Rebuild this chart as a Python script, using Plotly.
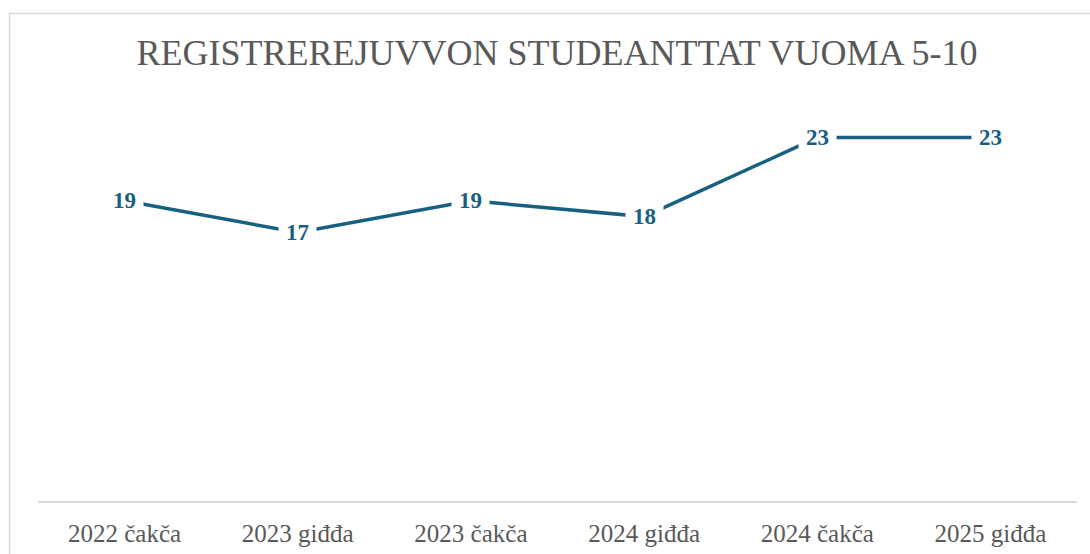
import plotly.graph_objects as go

categories = ["2022 čakča", "2023 giđđa", "2023 čakča", "2024 giđđa", "2024 čakča", "2025 giđđa"]
values = [19, 17, 19, 18, 23, 23]
title_text = "REGISTREREJUVVON STUDEANTTAT VUOMA 5-10"

line_color = "#17607f"
serif = "Liberation Serif, Times New Roman, serif"

fig = go.Figure()
fig.add_trace(go.Scatter(
    x=categories, y=values, mode="lines",
    line=dict(color=line_color, width=3.5),
    hoverinfo="skip", showlegend=False,
))

for c, v in zip(categories, values):
    fig.add_annotation(
        x=c, y=v, text=f"<b>{v}</b>", showarrow=False,
        font=dict(family=serif, size=23, color=line_color),
        bgcolor="white", borderpad=7, xanchor="center", yanchor="middle",
    )

W, H = 1090, 554
ml, mr, mt, mb = 38, 13, 106, 53
pw = W - ml - mr
ph = H - mt - mb

# chart-area border (decoration)
fig.add_shape(
    type="rect", xref="paper", yref="paper",
    x0=(9.5 - ml) / pw, x1=(W + 20 - ml) / pw,
    y0=(H - mb - (H + 20)) / ph, y1=(H - mb - 13.5) / ph,
    line=dict(color="#d9d9d9", width=1.5), fillcolor="rgba(0,0,0,0)", layer="below",
)

fig.update_layout(
    width=W, height=H,
    margin=dict(l=ml, r=mr, t=mt, b=mb, autoexpand=False),
    paper_bgcolor="white", plot_bgcolor="white",
    title=dict(
        text=title_text, x=557 / W, xanchor="center",
        y=1 - 52 / H, yanchor="middle", yref="container",
        font=dict(family=serif, size=36, color="#595959"),
    ),
    xaxis=dict(
        type="category", showgrid=False, zeroline=False, automargin=False,
        showline=True, linecolor="#d9d9d9", linewidth=1.5,
        ticks="", tickfont=dict(family=serif, size=25, color="#595959"),
        ticklabelstandoff=9,
        range=[-0.5, len(categories) - 0.5], fixedrange=True,
    ),
    yaxis=dict(
        range=[0, 25], showgrid=False, zeroline=False, showline=False,
        automargin=False,
        showticklabels=False, ticks="", fixedrange=True,
    ),
)

fig.write_html(
    "out.html",
    config={"displayModeBar": False},
    post_script="document.body.style.margin='0';document.body.style.overflow='hidden';",
)
